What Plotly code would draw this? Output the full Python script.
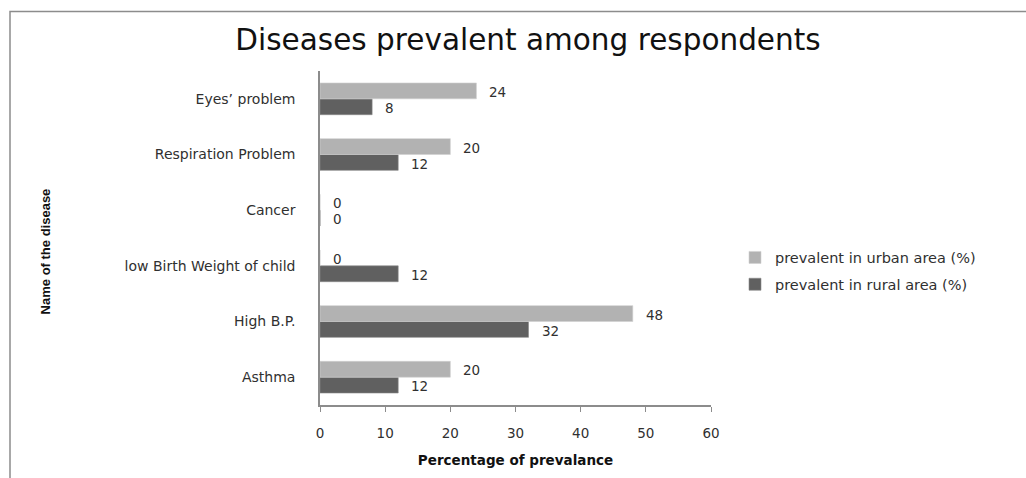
import plotly.graph_objects as go

categories = ["Eyes’ problem", "Respiration Problem", "Cancer",
              "low Birth Weight of child", "High B.P.", "Asthma"]
urban = [24, 20, 0, 0, 48, 20]
rural = [8, 12, 0, 12, 32, 12]
x_ticks = [0, 10, 20, 30, 40, 50, 60]

FONT = "DejaVu Sans"
TXT = "#303030"

# plot area in pixels
L, R, T, B = 320, 711, 71, 408
W, H = 1026, 478

fig = go.Figure()
fig.add_trace(go.Bar(
    y=categories, x=rural, orientation="h", name="prevalent in rural area (%)",
    legendgroup="rural", legendrank=2,
    marker=dict(color="#606060", line=dict(color="#8a8a8a", width=0.6)),
))
fig.add_trace(go.Bar(
    y=categories, x=urban, orientation="h", name="prevalent in urban area (%)",
    legendgroup="urban", legendrank=1,
    marker=dict(color="#b2b2b2", line=dict(color="#d0d0d0", width=0.6)),
))

# value labels via axis coordinates
for series, off in ((urban, -8), (rural, 8)):
    for cat, v in zip(categories, series):
        fig.add_annotation(
            x=v, y=cat, xref="x", yref="y", text=str(v), showarrow=False,
            xanchor="left", yanchor="middle", xshift=11, yshift=-off - 1,
            font=dict(family=FONT, size=13.5, color=TXT),
        )

# frame around chart
fig.add_shape(
    type="rect", xref="paper", yref="paper",
    x0=(10 - L) / (R - L), x1=(1040 - L) / (R - L),
    y0=(B - 490) / (B - T), y1=(B - 11) / (B - T),
    line=dict(color="#8c8c8c", width=1.5), fillcolor="rgba(0,0,0,0)", layer="below",
)

# rotated y-axis title
fig.add_annotation(
    text="<b>Name of the disease</b>", xref="paper", yref="paper",
    x=(45 - L) / (R - L), y=(B - 253) / (B - T), textangle=-90, showarrow=False,
    xanchor="center", yanchor="middle",
    font=dict(family="Liberation Sans", size=13, color="#111111"),
)

fig.update_layout(
    width=W, height=H,
    margin=dict(l=L, r=W - R, t=T, b=H - B, pad=0),
    paper_bgcolor="white", plot_bgcolor="white",
    barmode="group", bargap=0.43, bargroupgap=0,
    title=dict(text="Diseases prevalent among respondents", x=528 / W, xanchor="center",
               y=1 - 40 / H, yanchor="middle",
               font=dict(family=FONT, size=29.5, color="#111111")),
    showlegend=True,
    legend=dict(x=(735 - L) / (R - L), y=(B - 243) / (B - T), xanchor="left", yanchor="top",
                traceorder="grouped", tracegroupgap=5,
                font=dict(family=FONT, size=14.5, color=TXT),
                bgcolor="rgba(0,0,0,0)", itemwidth=30),
    xaxis=dict(range=[0, 60], tickvals=x_ticks, showgrid=False, zeroline=False,
               showline=True, linecolor="#8c8c8c", linewidth=1.5,
               ticks="outside", ticklen=5, tickcolor="#8c8c8c", ticklabelstandoff=10,
               tickfont=dict(family=FONT, size=13.5, color=TXT),
               title=dict(text="<b>Percentage of prevalance</b>", standoff=16,
                          font=dict(family=FONT, size=13.5, color="#111111"))),
    yaxis=dict(categoryorder="array", categoryarray=categories[::-1],
               showgrid=False, zeroline=False, showline=True, linecolor="#8c8c8c",
               linewidth=1.5, ticks="", ticklabelstandoff=20,
               tickfont=dict(family=FONT, size=14, color=TXT)),
)

fig.write_html("out.html")
